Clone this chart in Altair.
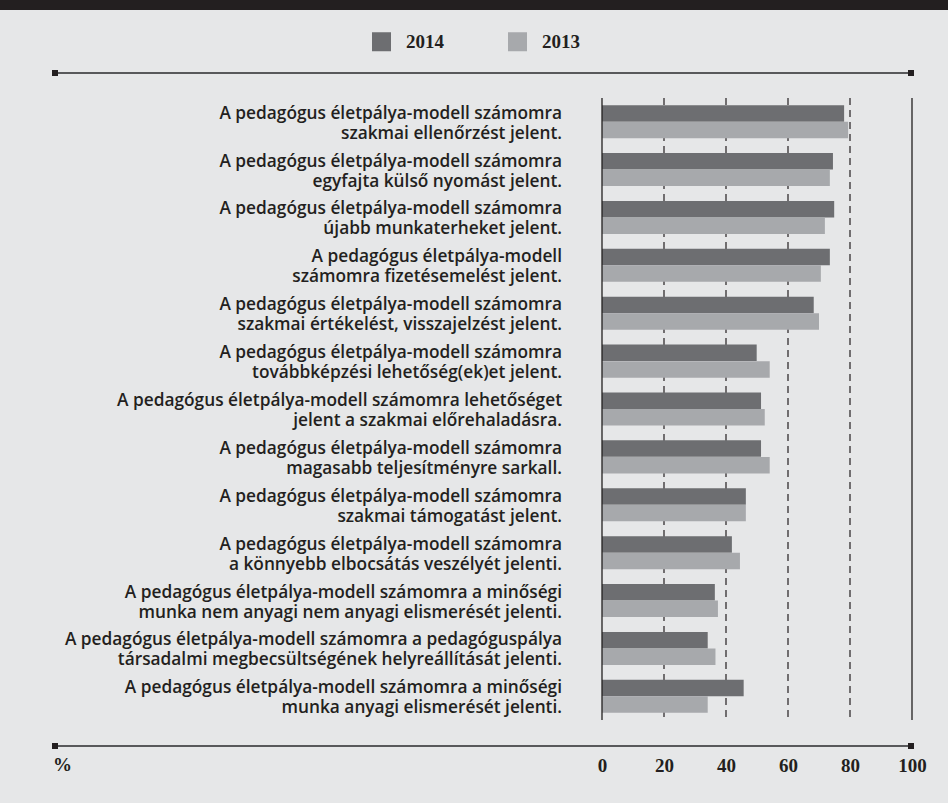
import altair as alt
import pandas as pd

# Survey statements (two lines each, top to bottom)
statements = [
    "A pedagógus életpálya-modell számomra\nszakmai ellenőrzést jelent.",
    "A pedagógus életpálya-modell számomra\negyfajta külső nyomást jelent.",
    "A pedagógus életpálya-modell számomra\nújabb munkaterheket jelent.",
    "A pedagógus életpálya-modell\nszámomra fizetésemelést jelent.",
    "A pedagógus életpálya-modell számomra\nszakmai értékelést, visszajelzést jelent.",
    "A pedagógus életpálya-modell számomra\ntovábbképzési lehetőség(ek)et jelent.",
    "A pedagógus életpálya-modell számomra lehetőséget\njelent a szakmai előrehaladásra.",
    "A pedagógus életpálya-modell számomra\nmagasabb teljesítményre sarkall.",
    "A pedagógus életpálya-modell számomra\nszakmai támogatást jelent.",
    "A pedagógus életpálya-modell számomra\na könnyebb elbocsátás veszélyét jelenti.",
    "A pedagógus életpálya-modell számomra a minőségi\nmunka nem anyagi nem anyagi elismerését jelenti.",
    "A pedagógus életpálya-modell számomra a pedagóguspálya\ntársadalmi megbecsültségének helyreállítását jelenti.",
    "A pedagógus életpálya-modell számomra a minőségi\nmunka anyagi elismerését jelenti.",
]
values_2014 = [78.1, 74.5, 74.9, 73.5, 68.3, 49.9, 51.3, 51.3, 46.4, 41.9, 36.4, 34.1, 45.7]
values_2013 = [79.4, 73.5, 71.9, 70.6, 70.0, 54.1, 52.5, 54.1, 46.4, 44.5, 37.4, 36.6, 34.1]
years = ["2014", "2013"]
year_colors = ["#6d6e71", "#a7a9ac"]
tick_values = [0, 20, 40, 60, 80, 100]

keys = [f"s{i:02d}" for i in range(len(statements))]

bars = pd.DataFrame(
    [{"key": k, "year": "2014", "value": v} for k, v in zip(keys, values_2014)]
    + [{"key": k, "year": "2013", "value": v} for k, v in zip(keys, values_2013)]
)
labels = pd.DataFrame({"key": keys, "label": statements})
grid = pd.DataFrame({"v": tick_values})
one = pd.DataFrame({"dummy": [0]})

W, H = 310, 622
LEFT, TOP = 602, 98
INK = "#231f20"
SERIF = "Liberation Serif"
SANS = "Open Sans"
LINE_H = 20

x_scale = alt.Scale(domain=[0, 100], nice=False, zero=True)
y_scale = alt.Scale(domain=keys, paddingInner=0.31, paddingOuter=0.15)

x_axis = alt.Axis(
    values=tick_values, domain=False, ticks=False, grid=False, title=None,
    labelFont=SERIF, labelFontWeight="bold", labelFontSize=19, labelColor=INK,
    labelPadding=45, labelBaseline="middle", labelFlush=False, labelBound=False,
)

dashed_grid = alt.Chart(grid).transform_filter("datum.v > 0 && datum.v < 100").mark_rule(
    color=INK, strokeWidth=1.2, strokeDash=[7, 5]
).encode(x=alt.X("v:Q", scale=x_scale, axis=x_axis), y=alt.value(0), y2=alt.value(H))

solid_grid = alt.Chart(grid).transform_filter("datum.v == 0 || datum.v == 100").mark_rule(
    color=INK, strokeWidth=1.3
).encode(x=alt.X("v:Q", scale=x_scale), y=alt.value(0), y2=alt.value(H))

bar_layer = alt.Chart(bars).mark_bar(size=16.5).encode(
    x=alt.X("value:Q", scale=x_scale),
    y=alt.Y("key:N", scale=y_scale, axis=None),
    yOffset=alt.YOffset("year:N", sort=years, scale=alt.Scale(domain=years, paddingInner=0, paddingOuter=0)),
    color=alt.Color(
        "year:N",
        scale=alt.Scale(domain=years, range=year_colors),
        legend=alt.Legend(
            title=None, orient="none", direction="horizontal",
            legendX=372 - LEFT, legendY=32 - TOP,
            symbolType="square", symbolSize=361, symbolStrokeWidth=0, symbolOpacity=1,
            labelFont=SERIF, labelFontWeight="bold", labelFontSize=19, labelColor=INK,
            labelOffset=15, columnPadding=64,
        ),
    ),
)

# Two-line statement labels, block centred on each bar pair
label_layer = alt.Chart(labels).mark_text(
    align="right", baseline="middle", font=SANS, fontWeight=600, fontSize=17.3,
    color=INK, lineBreak="\n", lineHeight=LINE_H, dy=-8,
).encode(
    y=alt.Y("key:N", scale=y_scale, axis=None),
    x=alt.value(562 - LEFT),
    text="label:N",
)

# Frame: black top band, rules above and below the plot with square end caps
band = alt.Chart(one).mark_rect(color="#231f20").encode(
    x=alt.value(-LEFT), x2=alt.value(948 - LEFT), y=alt.value(-TOP), y2=alt.value(10 - TOP)
)
top_rule = alt.Chart(one).mark_rule(color="#58595b", strokeWidth=2).encode(
    x=alt.value(54 - LEFT), x2=alt.value(911 - LEFT), y=alt.value(73 - TOP)
)
bottom_rule = alt.Chart(one).mark_rule(color="#58595b", strokeWidth=2).encode(
    x=alt.value(54 - LEFT), x2=alt.value(911 - LEFT), y=alt.value(746 - TOP)
)
cap_size = 36
caps = [
    alt.Chart(one).mark_square(color=INK, opacity=1, size=cap_size).encode(
        x=alt.value(cx - LEFT), y=alt.value(cy - TOP)
    )
    for cx in (55, 911) for cy in (73, 746)
]
percent = alt.Chart(one).mark_text(
    text="%", align="left", baseline="middle", font=SERIF, fontWeight="bold",
    fontSize=19, color=INK,
).encode(x=alt.value(53 - LEFT), y=alt.value(765 - TOP))

chart = alt.layer(
    band, top_rule, bottom_rule, *caps, percent,
    dashed_grid, bar_layer, solid_grid, label_layer,
).properties(
    width=W, height=H,
    padding={"left": LEFT, "top": TOP, "right": 948 - LEFT - W, "bottom": 803 - TOP - H},
    autosize=alt.AutoSizeParams(type="none"),
    background="#e6e7e8",
).configure_view(stroke=None)

chart.save("out.html", embed_options={"renderer": "svg", "actions": False})
